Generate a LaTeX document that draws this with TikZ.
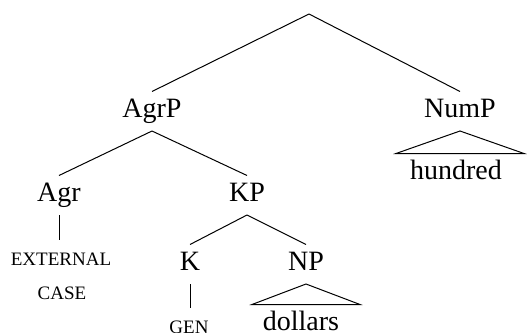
\documentclass[tikz,border=0pt]{standalone}
\usepackage{fontspec}
\setmainfont{Liberation Serif}
\usetikzlibrary{calc}
\begin{document}
\begin{tikzpicture}[
  x=0.5pt, y=-0.5pt, line width=0.5pt,
  every node/.style={inner sep=0pt,anchor=base,text height=12.5pt,text depth=6.75pt,
    font=\fontsize{14}{16}\selectfont},
  caps/.style={font=\fontsize{9.5}{11}\selectfont}
]
  \useasboundingbox (0,0) rectangle (529,332);
  \coordinate (top) at (309,14);
  \node (agrp) at (152,117) {AgrP};
  \node (nump) at (460,117) {NumP};
  \node (hundred) at (456,179) {hundred};
  \node (agr) at (59,201) {Agr};
  \node (kp) at (247,201) {KP};
  \node[caps] (ext) at (61,265) {EXTERNAL};
  \node[caps] (case) at (62,299) {CASE};
  \node (k) at (190,270) {K};
  \node (np) at (306,270) {NP};
  \node[caps] (gen) at (189,333) {GEN};
  \node (dollars) at (301,330) {dollars};

  \draw (top) -- (agrp.north);
  \draw (top) -- (nump.north);
  \draw (agrp.south) -- (agr.north);
  \draw (agrp.south) -- (kp.north);
  \draw (agr.south) -- (agr.south |- ext.north);
  \draw (kp.south) -- (k.north);
  \draw (kp.south) -- (np.north);
  \draw (k.south) -- (k.south |- gen.north);
  \draw (nump.south) -- ($(nump.south |- hundred.north)+(-64,0)$)
    -- ($(nump.south |- hundred.north)+(64,0)$) -- cycle;
  \draw (np.south) -- ($(np.south |- dollars.north)+(-54,0)$)
    -- ($(np.south |- dollars.north)+(54,0)$) -- cycle;
\end{tikzpicture}
\end{document}
